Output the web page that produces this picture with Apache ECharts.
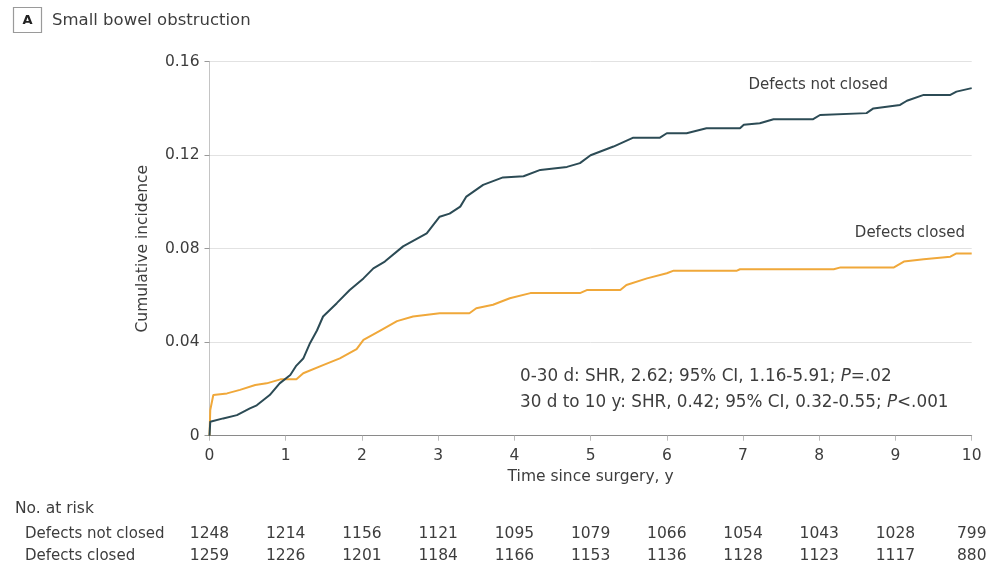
<!DOCTYPE html>
<html>
<head>
<meta charset="utf-8">
<script src="https://cdn.jsdelivr.net/npm/echarts@6/dist/echarts.min.js"></script>
<style>
  html, body { margin: 0; padding: 0; background: #fff; }
  #chart { width: 990px; height: 566px; }
</style>
</head>
<body>
<div id="chart"></div>
<script>
// cumulative incidence
const notClosedT = [0, 0.01, 0.18, 0.36, 0.53, 0.62, 0.79, 0.92, 1.06, 1.14, 1.23, 1.32, 1.41, 1.49, 1.67, 1.84, 2.02, 2.15, 2.30, 2.54, 2.85, 3.02, 3.15, 3.29, 3.37, 3.59, 3.85, 4.12, 4.34, 4.69, 4.86, 5.0, 5.30, 5.56, 5.91, 6.0, 6.26, 6.52, 6.96, 7.01, 7.22, 7.40, 7.92, 8.01, 8.62, 8.71, 9.06, 9.15, 9.37, 9.72, 9.80, 10.0];
const notClosedV = [0, 0.006, 0.0074, 0.0088, 0.0117, 0.013, 0.0174, 0.0224, 0.026, 0.030, 0.033, 0.0397, 0.045, 0.051, 0.0567, 0.0623, 0.0673, 0.0716, 0.0745, 0.081, 0.0866, 0.0937, 0.095, 0.098, 0.1023, 0.1073, 0.1105, 0.111, 0.1137, 0.115, 0.1166, 0.12, 0.1237, 0.1275, 0.1275, 0.1294, 0.1294, 0.1315, 0.1315, 0.133, 0.1337, 0.1354, 0.1354, 0.1372, 0.138, 0.140, 0.1415, 0.1433, 0.1458, 0.1458, 0.1472, 0.1487];

const closedT = [0, 0.01, 0.05, 0.23, 0.40, 0.60, 0.75, 0.93, 1.14, 1.23, 1.49, 1.71, 1.93, 2.02, 2.24, 2.46, 2.67, 3.02, 3.41, 3.50, 3.72, 3.94, 4.21, 4.86, 4.95, 5.39, 5.47, 5.74, 6.0, 6.09, 6.92, 6.96, 8.19, 8.28, 8.98, 9.11, 9.37, 9.72, 9.80, 10.0];
const closedV = [0, 0.011, 0.0174, 0.0181, 0.0196, 0.0217, 0.0224, 0.0241, 0.0241, 0.0267, 0.0302, 0.0331, 0.037, 0.041, 0.045, 0.049, 0.051, 0.0524, 0.0524, 0.0545, 0.056, 0.0588, 0.061, 0.061, 0.0623, 0.0623, 0.0645, 0.0673, 0.0695, 0.0706, 0.0706, 0.0712, 0.0712, 0.072, 0.072, 0.0745, 0.0755, 0.0766, 0.078, 0.078];

// number at risk table
const riskYears = [0, 1, 2, 3, 4, 5, 6, 7, 8, 9, 10];
const riskNotClosed = [1248, 1214, 1156, 1121, 1095, 1079, 1066, 1054, 1043, 1028, 799];
const riskClosed = [1259, 1226, 1201, 1184, 1166, 1153, 1136, 1128, 1123, 1117, 880];

const FONT = 'DejaVu Sans';
const TXT = '#3d3d3d';

const myChart = echarts.init(document.getElementById('chart'));

const pairs = (t, v) => t.map((x, i) => [x, v[i]]);

const options = {
  animation: false,
  grid: { left: 209.5, right: 18.3, top: 61.7, bottom: 130.3 },
  xAxis: {
    type: 'value',
    min: 0, max: 10, interval: 1,
    name: 'Time since surgery, y',
    nameLocation: 'middle',
    nameGap: 31,
    nameTextStyle: { color: TXT, fontSize: 15.5, fontFamily: FONT },
    axisLine: { lineStyle: { color: '#8a8a8a', width: 1 } },
    axisTick: { show: true, length: 5, lineStyle: { color: '#bbb' } },
    axisLabel: { color: TXT, fontSize: 15.5, fontFamily: FONT, margin: 12 },
    splitLine: { show: false }
  },
  yAxis: {
    type: 'value',
    min: 0, max: 0.16, interval: 0.04,
    name: 'Cumulative incidence',
    nameLocation: 'middle',
    nameGap: 59,
    nameTextStyle: { color: TXT, fontSize: 15.5, fontFamily: FONT },
    axisLine: { show: true, lineStyle: { color: '#c4c4c4', width: 1 } },
    axisTick: { show: true, length: 5, lineStyle: { color: '#999' } },
    axisLabel: {
      color: TXT, fontSize: 15.5, fontFamily: FONT, margin: 10,
      formatter: v => v === 0 ? '0' : v.toFixed(2)
    },
    splitLine: { show: true, lineStyle: { color: '#e2e2e2', width: 1 } }
  },
  series: [
    {
      name: 'Defects not closed',
      type: 'line',
      showSymbol: false,
      data: pairs(notClosedT, notClosedV),
      lineStyle: { color: '#2c4b55', width: 2 },
      z: 3
    },
    {
      name: 'Defects closed',
      type: 'line',
      showSymbol: false,
      data: pairs(closedT, closedV),
      lineStyle: { color: '#f0a83a', width: 2 },
      z: 2
    }
  ]
};
myChart.setOption(options, true);

// texts and risk table, placed from the axis scale
const px = x => myChart.convertToPixel({ xAxisIndex: 0 }, x);
const rich = { i: { fontStyle: 'italic', fontSize: 16.8, fontFamily: FONT, fill: TXT } };
const graphics = [
  { type: 'rect', shape: { x: 13.5, y: 7.5, width: 28, height: 25 }, style: { fill: '#fff', stroke: '#9a9a9a', lineWidth: 1.2 } },
  { type: 'text', x: 27.5, y: 20.5, style: { text: 'A', font: 'bold 13px ' + FONT, fill: '#222', align: 'center', verticalAlign: 'middle' } },
  { type: 'text', x: 52, y: 21, style: { text: 'Small bowel obstruction', font: '16.5px ' + FONT, fill: TXT, verticalAlign: 'middle' } },
  { type: 'text', x: 888, y: 85, style: { text: 'Defects not closed', font: '15px ' + FONT, fill: TXT, align: 'right', verticalAlign: 'middle' } },
  { type: 'text', x: 965, y: 233, style: { text: 'Defects closed', font: '15px ' + FONT, fill: TXT, align: 'right', verticalAlign: 'middle' } },
  {
    type: 'text', x: 520, y: 377,
    style: {
      text: '0-30 d: SHR, 2.62; 95% CI, 1.16-5.91; {i|P}=.02',
      font: '16.8px ' + FONT, fill: TXT, verticalAlign: 'middle', rich: rich
    }
  },
  {
    type: 'text', x: 520, y: 403,
    style: {
      text: '30 d to 10 y: SHR, 0.42; 95% CI, 0.32-0.55; {i|P}<.001',
      font: '16.8px ' + FONT, fill: TXT, verticalAlign: 'middle', rich: rich
    }
  },
  { type: 'text', x: 15, y: 509, style: { text: 'No. at risk', font: '15.5px ' + FONT, fill: TXT, verticalAlign: 'middle' } },
  { type: 'text', x: 25, y: 534, style: { text: 'Defects not closed', font: '15px ' + FONT, fill: TXT, verticalAlign: 'middle' } },
  { type: 'text', x: 25, y: 556, style: { text: 'Defects closed', font: '15px ' + FONT, fill: TXT, verticalAlign: 'middle' } }
];
riskYears.forEach((yr, i) => {
  graphics.push({ type: 'text', x: px(yr), y: 534, style: { text: String(riskNotClosed[i]), font: '15.5px ' + FONT, fill: TXT, align: 'center', verticalAlign: 'middle' } });
  graphics.push({ type: 'text', x: px(yr), y: 556, style: { text: String(riskClosed[i]), font: '15.5px ' + FONT, fill: TXT, align: 'center', verticalAlign: 'middle' } });
});
myChart.setOption({ graphic: graphics });

window.addEventListener('resize', function () {
  myChart.resize();
});
</script>
</body>
</html>
